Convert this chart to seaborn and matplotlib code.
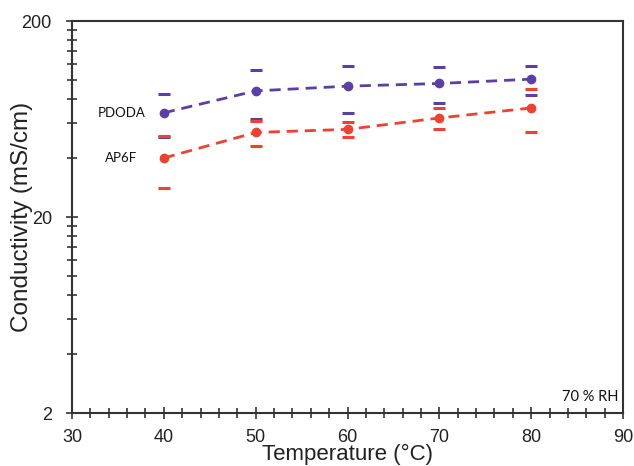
import numpy as np
import pandas as pd
import matplotlib
matplotlib.use("Agg")
import matplotlib.pyplot as plt
from matplotlib.ticker import FixedLocator, NullFormatter, FixedFormatter
import seaborn as sns

# ---- data ----
temperature = [40, 50, 60, 70, 80]
pdoda = [68, 88, 93, 96, 101]
pdoda_err = [17, 25, 25, 20, 17]
ap6f = [40, 54, 56, 64, 72]
ap6f_err = [12, 8, 5, 7.6, 18]
series_names = ["PDODA", "AP6F"]
x_ticks = [30, 40, 50, 60, 70, 80, 90]
y_ticks = [2, 20, 200]
y_tick_labels = ["2", "20", "200"]
note = "70 % RH"

colors = {"PDODA": "#5b3fa6", "AP6F": "#ee4130"}

df = pd.DataFrame({
    "Temperature": temperature * 2,
    "Conductivity": pdoda + ap6f,
    "Err": pdoda_err + ap6f_err,
    "Membrane": [series_names[0]] * len(temperature) + [series_names[1]] * len(temperature),
})

sns.set_style("white")
plt.rcParams["font.family"] = ["Liberation Sans", "DejaVu Sans"]

fig = plt.figure(figsize=(6.34, 4.66), dpi=100)
ax = fig.add_axes([72 / 634, 1 - 413 / 466, (623 - 72) / 634, (413 - 21) / 466])

sns.lineplot(data=df, x="Temperature", y="Conductivity", hue="Membrane",
             palette=colors, marker="o", markersize=7, markeredgewidth=0,
             linewidth=2.0, legend=False, ax=ax)
for line in ax.get_lines():
    line.set_dashes([4, 2.5])

for name in series_names:
    sub = df[df["Membrane"] == name]
    ax.errorbar(sub["Temperature"], sub["Conductivity"], yerr=sub["Err"],
                fmt="none", ecolor=colors[name], elinewidth=0,
                capsize=4, capthick=2.2)

ax.set_yscale("log")
ax.set_xlim(30, 90)
ax.set_ylim(2, 200)

ax.xaxis.set_major_locator(FixedLocator(x_ticks))
ax.xaxis.set_minor_locator(FixedLocator(np.arange(30, 91, 2)))
ax.yaxis.set_major_locator(FixedLocator(y_ticks))
ax.yaxis.set_major_formatter(FixedFormatter(y_tick_labels))
minor_y = [2 * k for k in range(2, 10)] + [20 * k for k in range(2, 10)]
ax.yaxis.set_minor_locator(FixedLocator(minor_y))
ax.yaxis.set_minor_formatter(NullFormatter())

ax.tick_params(axis="both", which="both", bottom=True, left=True, top=False, right=False)
ax.tick_params(axis="both", which="major", direction="inout", length=9,
               width=1.2, color="#333333", labelsize=13, labelcolor="#222222")
ax.tick_params(axis="both", which="minor", direction="inout", length=7,
               width=1.2, color="#333333")
ax.tick_params(axis="x", which="major", pad=7)
ax.tick_params(axis="y", which="major", pad=10)

for s in ax.spines.values():
    s.set_visible(True)
    s.set_linewidth(1.5)
    s.set_color("#333333")

ax.set_xlabel("Temperature (°C)", fontsize=16, color="#222222")
ax.xaxis.set_label_coords(0.5, -0.080)
ax.set_ylabel("Conductivity (mS/cm)", fontsize=17.5, color="#222222")
ax.yaxis.set_label_coords(-0.071, 0.5)

ax.annotate(series_names[0], xy=(temperature[0], pdoda[0]), xytext=(-13, 0),
            textcoords="offset points", ha="right", va="center",
            fontsize=9.5, family=["Lato", "DejaVu Sans"], color="#111111")
ax.annotate(series_names[1], xy=(temperature[0], ap6f[0]), xytext=(-19, 0),
            textcoords="offset points", ha="right", va="center",
            fontsize=9.5, family=["Lato", "DejaVu Sans"], color="#111111")
ax.text(0.992, 0.022, note, transform=ax.transAxes, ha="right", va="bottom",
        fontsize=10.5, family=["Lato", "DejaVu Sans"], color="#111111")

fig.savefig("out.png", dpi=100)
